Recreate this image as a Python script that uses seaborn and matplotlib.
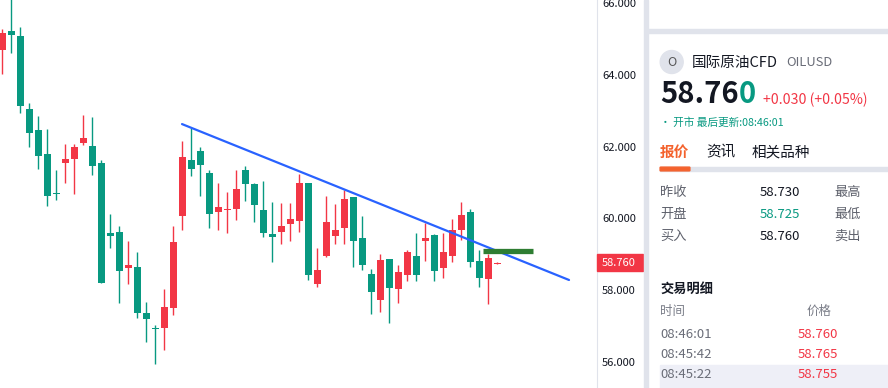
import matplotlib
matplotlib.use("Agg")
import numpy as np
import pandas as pd
import matplotlib.pyplot as plt
import matplotlib.transforms as mtransforms
from matplotlib.patches import Rectangle, Circle, FancyBboxPatch
import seaborn as sns

# ==========================================
# 数据 (从图上读出的 K 线)
# ==========================================
OPEN = [64.70, 65.23, 65.09, 63.05, 62.46, 61.80, 60.69, 61.54, 61.66, 62.11,
        62.02, 61.54, 59.59, 59.62, 58.62, 58.64, 57.36, 56.92, 56.95, 57.51,
        60.07, 61.63, 61.88, 61.27, 60.19, 60.22, 60.27, 61.35, 60.96, 60.23,
        59.56, 59.63, 59.85, 59.93, 60.99, 58.18, 58.96, 59.52, 59.74, 60.60,
        59.46, 58.45, 57.73, 58.87, 58.04, 58.43, 58.95, 59.38, 59.53, 58.62,
        58.96, 59.68, 60.18, 58.81, 58.32, 58.725]
HIGH = [65.28, 66.30, 65.34, 63.22, 62.86, 62.49, 61.35, 62.07, 62.07, 62.88,
        62.83, 61.63, 60.12, 59.79, 59.37, 59.06, 57.67, 57.02, 58.04, 59.79,
        62.16, 62.51, 61.99, 61.35, 60.99, 60.73, 61.35, 61.46, 60.99, 61.05,
        60.46, 60.43, 60.43, 61.24, 60.99, 59.17, 60.62, 60.40, 60.79, 60.60,
        60.07, 58.59, 59.00, 58.87, 58.70, 59.12, 59.59, 59.87, 59.56, 59.59,
        59.98, 60.46, 60.26, 59.12, 59.00, 58.79]
LOW = [64.03, 64.62, 62.95, 62.00, 61.39, 60.35, 60.52, 60.99, 60.69, 62.05,
       61.22, 58.20, 59.18, 57.65, 58.18, 57.23, 56.56, 55.94, 56.33, 57.31,
       59.68, 61.19, 60.63, 59.74, 59.68, 59.60, 59.96, 60.49, 59.91, 59.49,
       58.79, 59.29, 59.38, 59.63, 58.29, 58.09, 58.93, 59.29, 59.29, 58.65,
       58.57, 57.34, 57.40, 57.09, 57.65, 58.26, 58.26, 58.82, 58.26, 58.34,
       58.79, 59.40, 58.65, 58.09, 57.62, 58.72]
CLOSE = [65.18, 65.12, 63.13, 62.39, 61.75, 60.63, 60.67, 61.66, 61.99, 62.24,
         61.47, 58.20, 59.52, 58.54, 58.70, 57.37, 57.20, 56.90, 57.53, 59.34,
         61.71, 61.39, 61.50, 60.13, 60.32, 60.24, 60.82, 60.97, 60.38, 59.60,
         59.49, 59.79, 59.98, 60.99, 58.43, 58.56, 59.90, 59.67, 60.54, 59.38,
         58.71, 57.95, 58.84, 58.06, 58.50, 59.06, 58.43, 59.45, 58.54, 59.06,
         59.67, 60.09, 58.79, 58.34, 58.89, 58.76]

# 趋势线 (两个端点) 与水平标记
TREND_X = [19.97, 62.97]
TREND_Y = [62.63, 58.28]
MARK_X = [53.41, 58.97]
MARK_Y = 59.10
LAST_PRICE = 58.760
Y_TICKS = [56, 58, 60, 62, 64, 66]

# 右侧面板文字
QUOTE_ROWS = [("昨收", "58.730", "最高"), ("开盘", "58.725", "最低"), ("买入", "58.760", "卖出")]
TRADE_TIMES = ["08:46:01", "08:45:42", "08:45:22"]
TRADE_PRICES = ["58.760", "58.765", "58.755"]

UP = "#f23645"
DOWN = "#089981"
GRAY_BAND = "#e0e3eb"
W, H = 888, 388


def fx(x):
    return x / W


def fy(y):
    return 1 - y / H


def main():
    sns.set_style("white")
    plt.rcParams['font.family'] = ['Noto Sans CJK SC', 'DejaVu Sans']

    df = pd.DataFrame({"open": OPEN, "high": HIGH, "low": LOW, "close": CLOSE})
    df["x"] = np.arange(len(df))
    df["up"] = df["close"] >= df["open"]
    df["color"] = np.where(df["up"], UP, DOWN)

    fig = plt.figure(figsize=(W / 100, H / 100), dpi=100)
    ax = fig.add_axes([0, 0, 597 / W, 1])

    # --- K 线 ---
    ax.vlines(df["x"], df["low"], df["high"], colors=df["color"], lw=1.0)
    body = np.maximum((df["close"] - df["open"]).abs(), 0.04)
    ax.bar(df["x"], body, bottom=df[["open", "close"]].min(axis=1),
           width=0.78, color=df["color"], linewidth=0)

    # --- 趋势线 ---
    sns.lineplot(x=TREND_X, y=TREND_Y, ax=ax, color="#2962ff", lw=1.6)
    ax.hlines(MARK_Y, MARK_X[0], MARK_X[1], color="#2e7d32", lw=3.8)

    ax.set_xlim(-0.256, 66.08)
    ax.set_ylim(55.266, 66.092)
    ax.set_xticks([])
    ax.yaxis.tick_right()
    ax.set_yticks(Y_TICKS)
    ax.set_yticklabels([f"{t:.3f}" for t in Y_TICKS])
    ax.tick_params(axis='y', length=0, pad=3.6, labelsize=8, labelcolor="#131722")
    for s in ["top", "left", "bottom"]:
        ax.spines[s].set_visible(False)
    ax.spines["right"].set_color(GRAY_BAND)
    ax.spines["right"].set_linewidth(0.8)

    # 最新价标签
    trans = mtransforms.blended_transform_factory(ax.transAxes, ax.transData)
    ax.add_patch(Rectangle((1.0, LAST_PRICE - 0.237), 46 / 597, 0.474, transform=trans,
                           color=UP, clip_on=False, zorder=5))
    ax.text(602 / 597, LAST_PRICE, f"{LAST_PRICE:.3f}", transform=trans, color="white",
            fontsize=8, va="center", ha="left", zorder=6, clip_on=False)

    # ==========================================
    # 右侧面板
    # ==========================================
    fig.patches.append(Rectangle((fx(644), 0), fx(4), 1, transform=fig.transFigure,
                                 color=GRAY_BAND, zorder=0))
    fig.patches.append(Rectangle((fx(648), fy(33)), 1 - fx(648), 4 / H,
                                 transform=fig.transFigure, color=GRAY_BAND, zorder=0))

    fig.patches.append(Circle((671.7 / 100, (H - 62) / 100), 0.115,
                              transform=fig.dpi_scale_trans, color=GRAY_BAND))
    fig.text(fx(671.7), fy(62), "O", color="#555", fontsize=9, ha="center", va="center")
    fig.text(fx(692), fy(63), "国际原油CFD", color="#131722", fontsize=10.5, va="center")
    fig.text(fx(786), fy(63), "OILUSD", color="#6a6d78", fontsize=9.3, va="center")

    price_txt = fig.text(fx(660), fy(94), "58.76", color="#131722", fontsize=21,
                         weight="bold", va="center")
    r = fig.canvas.get_renderer()
    bb = price_txt.get_window_extent(renderer=r)
    fig.text(bb.x1 / W, fy(94), "0", color=DOWN, fontsize=21, weight="bold", va="center")
    fig.text(fx(763), fy(100), "+0.030 (+0.05%)", color=UP, fontsize=10.2, va="center")
    fig.text(fx(660), fy(123), "• 开市 最后更新:08:46:01", color=DOWN, fontsize=7.7, va="center")

    # 标签页
    fig.text(fx(660), fy(152), "报价", color="#f4622d", fontsize=10.5, weight="bold", va="center")
    fig.text(fx(706), fy(152), "资讯", color="#131722", fontsize=10.5, va="center")
    fig.text(fx(751.7), fy(152), "相关品种", color="#131722", fontsize=10.5, va="center")
    fig.patches.append(Rectangle((fx(660), fy(171)), 1 - fx(660), 4 / H,
                                 transform=fig.transFigure, color=GRAY_BAND))
    fig.patches.append(FancyBboxPatch((fx(661), fy(170.5)), 28 / W, 3 / H,
                                      boxstyle="round,pad=0.001", transform=fig.transFigure,
                                      color="#f4622d"))

    for i, (lab, val, lab2) in enumerate(QUOTE_ROWS):
        y = 192.7 + i * 21.7
        fig.text(fx(660), fy(y), lab, color="#5d606b", fontsize=9.5, va="center")
        fig.text(fx(760), fy(y), val, color=DOWN if lab == "开盘" else "#131722",
                 fontsize=9.5, va="center")
        fig.text(fx(834), fy(y), lab2, color="#5d606b", fontsize=9.5, va="center")

    fig.text(fx(660), fy(289.3), "交易明细", color="#131722", fontsize=9.5,
             weight="bold", va="center")
    fig.text(fx(660), fy(311.7), "时间", color="#7a7d88", fontsize=9, va="center")
    fig.text(fx(806.7), fy(311.7), "价格", color="#7a7d88", fontsize=9, va="center")

    fig.patches.append(Rectangle((fx(660), 0), 1 - fx(660), 23 / H,
                                 transform=fig.transFigure, color="#eeeff7", zorder=0))
    for i, (t, p) in enumerate(zip(TRADE_TIMES, TRADE_PRICES)):
        y = 335 + i * 20
        fig.text(fx(660), fy(y), t, color="#6a6d78", fontsize=9.5, va="center")
        fig.text(fx(797.3), fy(y), p, color=UP, fontsize=9.5, va="center")

    fig.savefig("out.png", dpi=100)


if __name__ == "__main__":
    main()
